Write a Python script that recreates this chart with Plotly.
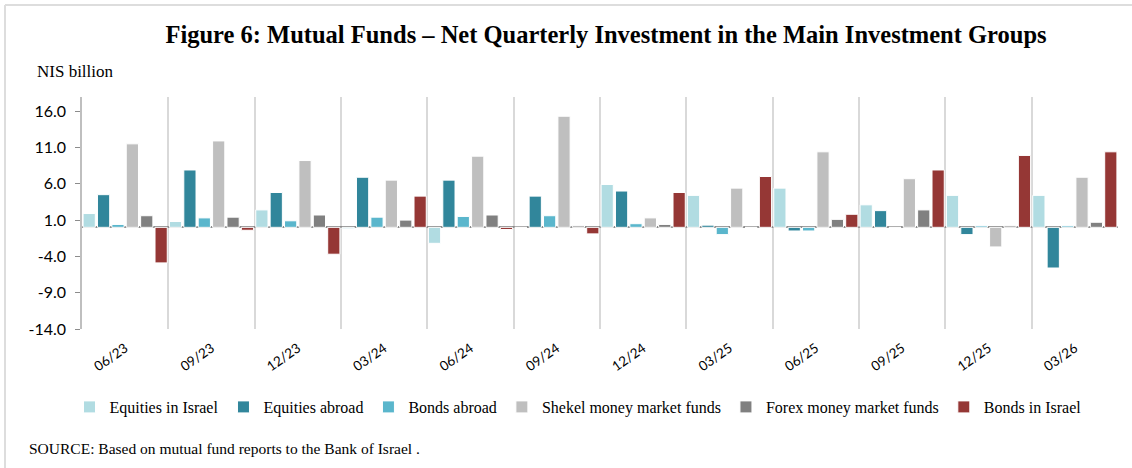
import plotly.graph_objects as go

quarters = ["06/23", "09/23", "12/23", "03/24", "06/24", "09/24",
            "12/24", "03/25", "06/25", "09/25", "12/25", "03/26"]

equities_israel = [1.9, 0.8, 2.4, -0.2, -2.2, 0.0, 5.9, 4.4, 5.4, 3.1, 4.4, 4.4]
equities_abroad = [4.5, 7.9, 4.8, 6.9, 6.5, 4.3, 5.0, 0.3, -0.5, 2.3, -1.0, -5.6]
bonds_abroad = [0.4, 1.3, 0.9, 1.4, 1.5, 1.6, 0.5, -1.0, -0.5, 0.0, 0.2, 0.2]
shekel_mmf = [11.5, 11.9, 9.2, 6.5, 9.8, 15.3, 1.3, 5.4, 10.4, 6.7, -2.7, 6.9]
forex_mmf = [1.6, 1.4, 1.7, 1.0, 1.7, 0.2, 0.4, 0.0, 1.1, 2.4, 0.2, 0.7]
bonds_israel = [-4.9, -0.4, -3.7, 4.3, -0.3, -0.9, 4.8, 7.0, 1.8, 7.9, 9.9, 10.4]

series = [
    ("Equities in Israel", equities_israel, "#B1DCE2"),
    ("Equities abroad", equities_abroad, "#31869B"),
    ("Bonds abroad", bonds_abroad, "#5AB6CC"),
    ("Shekel money market funds", shekel_mmf, "#BFBFBF"),
    ("Forex money market funds", forex_mmf, "#808080"),
    ("Bonds in Israel", bonds_israel, "#953735"),
]

y_ticks = [-14, -9, -4, 1, 6, 11, 16]

W, H = 1132, 468
ML, MR, MT, MB = 82, 14, 97, 139
PW, PH = W - ML - MR, H - MT - MB

fig = go.Figure()
for name, vals, color in series:
    fig.add_trace(go.Bar(
        x=quarters, y=vals, name=name,
        marker=dict(color=color, line=dict(color="white", width=1)),
    ))

def px_x(p):
    return (p - ML) / PW

def px_y(p):
    return (H - MB - p) / PH

fig.update_layout(
    width=W, height=H,
    margin=dict(l=ML, r=MR, t=MT, b=MB, autoexpand=False),
    paper_bgcolor="white", plot_bgcolor="white",
    barmode="group", bargap=0.0, bargroupgap=0.15,
    title=dict(
        text="<b>Figure 6: Mutual Funds – Net Quarterly Investment in the Main Investment Groups</b>",
        x=606 / W, xanchor="center", y=1 - 34 / H, yanchor="middle",
        font=dict(family="Liberation Serif", size=24.5, color="black"),
    ),
    showlegend=True,
    legend=dict(
        orientation="h",
        x=px_x(578), xanchor="center",
        y=px_y(407), yanchor="middle",
        font=dict(family="Liberation Serif", size=16, color="black"),
        itemwidth=30, traceorder="normal",
    ),
    xaxis=dict(
        type="category", tickson="boundaries",
        showgrid=True, gridcolor="#D9D9D9", gridwidth=1.5,
        ticks="", tickangle=-35, ticklabelstandoff=8,
        tickfont=dict(family="Lato", size=13.5, color="black"),
        showline=False, zeroline=False,
    ),
    yaxis=dict(
        range=[-14, 17.95], tickvals=y_ticks,
        ticktext=[f"{v:.1f}" for v in y_ticks],
        showgrid=False, zeroline=True, zerolinecolor="#8C8C8C", zerolinewidth=2,
        showline=True, linecolor="#BFBFBF", linewidth=1.5,
        ticks="outside", ticklen=5, tickcolor="#8C8C8C",
        ticklabelstandoff=6,
        tickfont=dict(family="Lato", size=16, color="black"),
    ),
    annotations=[
        dict(text="NIS billion", xref="paper", yref="paper",
             x=px_x(35), y=px_y(72), xanchor="left", yanchor="middle",
             showarrow=False,
             font=dict(family="Liberation Serif", size=17, color="black")),
        dict(text="SOURCE: Based on mutual fund reports to the Bank of Israel .",
             xref="paper", yref="paper",
             x=px_x(27), y=px_y(448), xanchor="left", yanchor="middle",
             showarrow=False,
             font=dict(family="Liberation Serif", size=15.5, color="black")),
    ],
    shapes=[
        dict(type="line", xref="paper", yref="paper",
             x0=px_x(5), x1=px_x(W), y0=px_y(5), y1=px_y(5),
             line=dict(color="#DDDDDD", width=2)),
        dict(type="line", xref="paper", yref="paper",
             x0=px_x(5), x1=px_x(5), y0=px_y(5), y1=px_y(H),
             line=dict(color="#DDDDDD", width=2)),
    ],
)

fig.write_html("out.html", config={"displayModeBar": False},
               post_script="document.body.style.margin='0';document.body.style.padding='0';")
